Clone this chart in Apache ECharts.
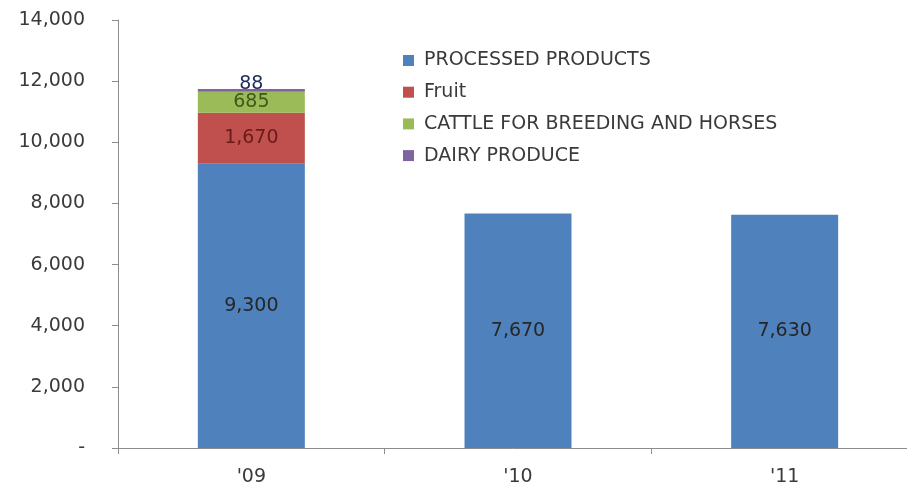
<!DOCTYPE html>
<html>
<head>
<meta charset="utf-8">
<script src="https://cdn.jsdelivr.net/npm/echarts@6/dist/echarts.min.js"></script>
<style>
  html, body { margin: 0; padding: 0; background: #fff; }
  #chart { width: 907px; height: 488px; }
</style>
</head>
<body>
<div id="chart"></div>
<script>
// Export values by year (stacked)
const years = ["'09", "'10", "'11"];
const processed = [9300, 7670, 7630];
const fruit = [1670, null, null];
const cattle = [685, null, null];
const dairy = [88, null, null];

const seriesNames = ['PROCESSED PRODUCTS', 'Fruit', 'CATTLE FOR BREEDING AND HORSES', 'DAIRY PRODUCE'];
const colors = ['#4F81BD', '#C0504D', '#9BBB59', '#8064A2'];
const labelColors = ['#262626', '#6b1a18', '#3d5a1a', '#1f2a5a'];

const fontFamily = 'DejaVu Sans, Verdana, sans-serif';
const fontSize = 19;
const fmt = v => v.toLocaleString('en-US');

function makeSeries(name, data, idx, labelExtra) {
  return {
    name: name,
    type: 'bar',
    stack: 'total',
    data: data,
    barWidth: 107,
    itemStyle: { color: colors[idx] },
    label: Object.assign({
      show: true,
      position: 'inside',
      color: labelColors[idx],
      fontFamily: fontFamily,
      fontSize: fontSize,
      formatter: p => fmt(p.value)
    }, labelExtra || {})
  };
}

const chart = echarts.init(document.getElementById('chart'));
chart.setOption({
  animation: false,
  backgroundColor: '#fff',
  grid: { left: 118, top: 20, width: 800, height: 428, containLabel: false, outerBoundsMode: 'none' },
  legend: {
    orient: 'vertical',
    left: 398,
    top: 46,
    itemWidth: 11,
    itemHeight: 11,
    itemGap: 12.7,
    icon: 'rect',
    data: seriesNames,
    textStyle: { fontFamily: fontFamily, fontSize: fontSize, lineHeight: 19, color: '#3a3a3a', padding: [0, 0, 0, 5] }
  },
  xAxis: {
    type: 'category',
    data: years,
    axisLine: { lineStyle: { color: '#8c8c8c' } },
    axisTick: { show: true, alignWithLabel: false, length: 6, lineStyle: { color: '#8c8c8c' } },
    axisLabel: { fontFamily: fontFamily, fontSize: fontSize, color: '#3a3a3a', margin: 20 }
  },
  yAxis: {
    type: 'value',
    min: 0,
    max: 14000,
    interval: 2000,
    splitLine: { show: false },
    axisLine: { show: true, lineStyle: { color: '#8c8c8c' } },
    axisTick: { show: true, length: 6, lineStyle: { color: '#8c8c8c' } },
    axisLabel: {
      fontFamily: fontFamily, fontSize: fontSize, color: '#3a3a3a', margin: 33,
      formatter: v => v === 0 ? '-' : fmt(v)
    }
  },
  series: [
    makeSeries(seriesNames[0], processed, 0),
    makeSeries(seriesNames[1], fruit, 1),
    makeSeries(seriesNames[2], cattle, 2),
    makeSeries(seriesNames[3], dairy, 3, { position: 'top', distance: -5 })
  ]
});
</script>
</body>
</html>
